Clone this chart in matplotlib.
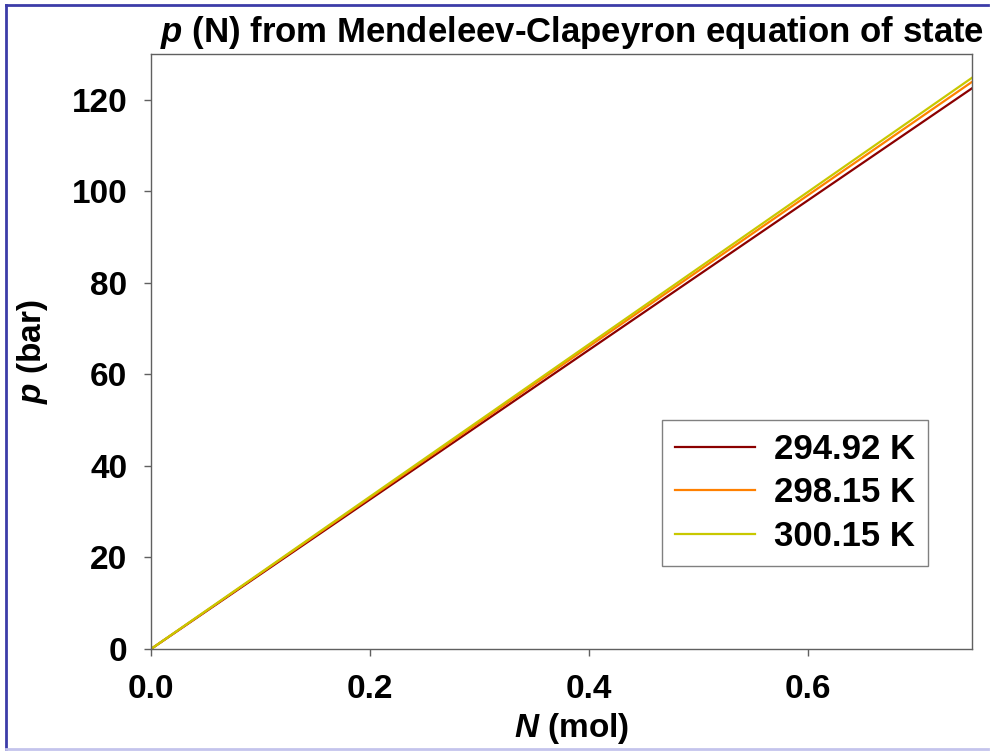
import matplotlib.pyplot as plt
from matplotlib.lines import Line2D

# amount of gas (mol) and pressure (bar) at the ends of each isotherm
N_mol = [0.0, 0.75]
p_294 = [0.0, 122.5]
p_298 = [0.0, 123.9]
p_300 = [0.0, 124.8]
labels = ["294.92 K", "298.15 K", "300.15 K"]
colors = ["#8b0000", "#ff8000", "#c8c800"]

plt.rcParams['font.family'] = ['Liberation Sans', 'DejaVu Sans']
plt.rcParams['font.weight'] = 'bold'
plt.rcParams['mathtext.fontset'] = 'custom'
plt.rcParams['mathtext.bfit'] = 'Liberation Sans:italic:bold'
plt.rcParams['mathtext.it'] = 'Liberation Sans:italic:bold'
plt.rcParams['mathtext.rm'] = 'Liberation Sans:bold'

fig = plt.figure(figsize=(9.92, 7.51), dpi=100)
ax = fig.add_axes([0.1522, 0.1358, 0.8276, 0.7923])

for p, lab, c in zip([p_294, p_298, p_300], labels, colors):
    ax.plot(N_mol, p, color=c, lw=1.6, label=lab)

ax.set_xlim(0, 0.75)
ax.set_ylim(0, 130)
ax.set_xticks([0.0, 0.2, 0.4, 0.6])
ax.set_xticklabels(["0.0", "0.2", "0.4", "0.6"])
ax.set_yticks([0, 20, 40, 60, 80, 100, 120])

for s in ax.spines.values():
    s.set_color("#606060")
    s.set_linewidth(1.0)
ax.tick_params(direction='out', length=5, width=1, color="#606060",
               labelsize=24)
ax.tick_params(axis='y', pad=12)
ax.tick_params(axis='x', pad=13)
for t in ax.get_xticklabels() + ax.get_yticklabels():
    t.set_fontweight('bold')

ax.set_xlabel(r"$\bfit{N}$ (mol)", fontsize=24, fontweight='bold')
ax.xaxis.set_label_coords(0.512, -0.133)
ax.xaxis.label.set_va('center')
ax.set_ylabel(r"$\bfit{p}$ (bar)", fontsize=24, fontweight='bold')
ax.yaxis.set_label_coords(-0.144, 0.5)
ax.yaxis.label.set_va('center')
fig.text(0.577, 0.957, r"$\bfit{p}$ (N) from Mendeleev-Clapeyron equation of state",
         ha='center', va='center', fontsize=25, fontweight='bold')

leg = ax.legend(loc='lower right', bbox_to_anchor=(0.9465, 0.1395), fontsize=25,
                frameon=True, fancybox=False, handlelength=2.3, handletextpad=0.55,
                labelspacing=0.3, borderpad=0.38, borderaxespad=0)
leg.get_frame().set_edgecolor("#606060")
leg.get_frame().set_linewidth(1.0)
for t in leg.get_texts():
    t.set_fontweight('bold')

# outer frame of the figure
fig.add_artist(Line2D([0.0065, 0.0065], [0.002, 0.9935], color="#3c3ca8", lw=2,
                      transform=fig.transFigure))
fig.add_artist(Line2D([0.0065, 0.996], [0.9935, 0.9935], color="#3c3ca8", lw=2,
                      transform=fig.transFigure))
fig.add_artist(Line2D([0.0065, 0.996], [0.002, 0.002], color="#c4c4ec", lw=2,
                      transform=fig.transFigure))

fig.savefig("out.png", dpi=100)
